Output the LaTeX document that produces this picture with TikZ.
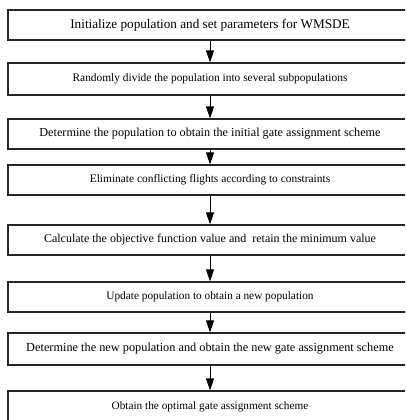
\documentclass[tikz,border=0pt]{standalone}
\usepackage{fontspec}
\setmainfont{Liberation Serif}
\usetikzlibrary{arrows.meta}
\newcommand{\fs}[1]{\fontsize{#1}{#1}\selectfont}
\begin{document}
\begin{tikzpicture}[x=1pt,y=1pt,
  stepbox/.style={draw=black!85,line width=1.3pt,rectangle,minimum width=404pt,inner sep=0pt},
  flow/.style={draw=black,line width=1pt,-{Triangle[length=12pt,width=8pt]}}]
\useasboundingbox (0,0) rectangle (405,-420);
\clip (0,0) rectangle (405,-420);
\fill[white] (0,0) rectangle (405,-420);
\node[stepbox,minimum height=30pt,font=\fs{13.2}] (b1) at (210,-25) {Initialize population and set parameters for WMSDE};
\node[stepbox,minimum height=32pt,font=\fs{11.4}] (b2) at (210,-79) {Randomly divide the population into several subpopulations};
\node[stepbox,minimum height=30pt,font=\fs{12.2}] (b3) at (210,-134) {Determine the population to obtain the initial gate assignment scheme};
\node[stepbox,minimum height=30pt,font=\fs{11.4}] (b4) at (210,-180) {Eliminate conflicting flights according to constraints};
\node[stepbox,minimum height=30pt,font=\fs{12.0}] (b5) at (210,-240) {Calculate the objective function value and \ retain the minimum value};
\node[stepbox,minimum height=30pt,font=\fs{11.3}] (b6) at (210,-297) {Update population to obtain a new population};
\node[stepbox,minimum height=32pt,font=\fs{12.3}] (b7) at (210,-349) {Determine the new population and obtain the new gate assignment scheme};
\node[stepbox,minimum height=32pt,font=\fs{11.3}] (b8) at (210,-407) {Obtain the optimal gate assignment scheme};
\draw[flow] (b1) -- (b2);
\draw[flow] (b2) -- (b3);
\draw[flow] (b3) -- (b4);
\draw[flow] (b4) -- (b5);
\draw[flow] (b5) -- (b6);
\draw[flow] (b6) -- (b7);
\draw[flow] (b7) -- (b8);
\end{tikzpicture}
\end{document}
